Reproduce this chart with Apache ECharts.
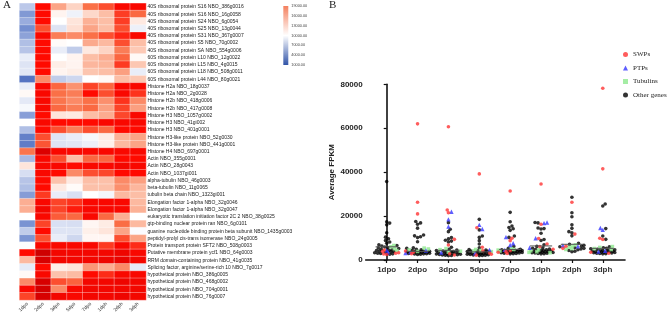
<!DOCTYPE html>
<html>
<head>
<meta charset="utf-8">
<script src="https://cdn.jsdelivr.net/npm/echarts@6/dist/echarts.min.js"></script>
<style>
  html, body { margin: 0; padding: 0; background: #fff; }
  #chart { width: 669px; height: 315px; }
</style>
</head>
<body>
<div id="chart"></div>
<script>
// 发育阶段
var stages = ['1dpo', '2dpo', '3dpo', '5dpo', '7dpo', '1dph', '2dph', '3dph'];

// 热图的基因
var genes = [
  '40S ribosomal protein S16 NBO_386g0016',
  '40S ribosomal protein S16 NBO_16g0058',
  '40S ribosomal protein S24 NBO_6g0054',
  '40S ribosomal protein S25 NBO_13g0044',
  '40S ribosomal protein S31 NBO_367g0007',
  '40S ribosomal protein S5 NBO_70g0002',
  '40S ribosomal protein SA NBO_554g0006',
  '60S ribosomal protein L10 NBO_12g0022',
  '60S ribosomal protein L15 NBO_4g0015',
  '60S ribosomal protein L18 NBO_508g0011',
  '60S ribosomal protein L44 NBO_80g0021',
  'Histone H2a NBO_18g0037',
  'Histone H2a NBO_2g0028',
  'Histone H2b NBO_418g0006',
  'Histone H2b NBO_417g0008',
  'Histone H3 NBO_1057g0002',
  'Histone H3 NBO_41gi002',
  'Histone H3 NBO_401g0001',
  'Histone H3-like protein NBO_52g0030',
  'Histone H3-like protein NBO_441g0001',
  'Histone H4 NBO_697g0001',
  'Actin NBO_355g0001',
  'Actin NBO_28g0043',
  'Actin NBO_1037gi001',
  'alpha-tubulin NBO_46g0003',
  'beta-tubulin NBO_11g0065',
  'tubulin beta chain NBO_1323gi001',
  'Elongation factor 1-alpha NBO_32g0046',
  'Elongation factor 1-alpha NBO_32g0047',
  'eukaryotic translation initiation factor 2C 2 NBO_38g0025',
  'gtp-binding nuclear protein ran NBO_6g0101',
  'guanine nucleotide binding protein beta subunit NBO_1435g0003',
  'peptidyl-prolyl cis-trans isomerase NBO_24g0005',
  'Protein transport protein SFT2 NBO_508g0003',
  'Putative membrane protein ycf1 NBO_64g0003',
  'RRM domain-containing protein NBO_41g0035',
  'Splicing factor, arginine/serine-rich 10 NBO_7g0017',
  'hypothetical protein NBO_386g0005',
  'hypothetical protein NBO_468g0002',
  'hypothetical protein NBO_704g0001',
  'hypothetical protein NBO_76g0007'
];

// 每行 8 个阶段的表达量
var expr = [
  [7000, 19000, 14000, 12000, 16000, 17000, 19500, 19500],
  [4500, 19000, 10500, 9300, 11800, 13000, 17500, 16200],
  [5500, 19000, 10000, 11200, 13500, 13000, 17500, 11000],
  [4000, 17000, 8500, 11500, 14000, 13000, 17000, 9200],
  [5000, 19500, 15500, 15000, 16000, 17000, 18200, 19500],
  [6500, 19000, 10200, 10000, 13800, 13200, 17000, 13000],
  [6800, 19000, 9000, 7200, 11000, 12000, 15500, 12500],
  [9000, 19000, 10000, 10500, 13000, 13700, 16300, 10300],
  [8500, 19000, 10800, 10500, 13300, 13400, 17600, 12600],
  [8700, 19000, 10500, 10800, 12700, 13000, 14200, 9000],
  [2500, 15000, 7200, 7800, 10000, 10300, 13000, 12600],
  [9000, 19500, 16300, 14700, 17300, 16300, 19500, 19500],
  [10300, 19500, 16000, 15500, 19000, 17000, 19500, 17800],
  [8800, 19500, 15800, 15000, 16000, 14800, 17800, 15000],
  [9600, 19500, 16200, 15500, 16200, 14200, 17300, 14200],
  [4800, 19000, 11200, 11000, 13000, 13700, 17200, 19500],
  [10000, 19500, 19000, 19000, 19000, 19500, 19500, 19500],
  [6500, 19000, 17000, 15500, 17000, 16200, 19000, 19000],
  [3200, 17000, 8500, 9000, 9600, 10800, 13500, 14000],
  [3000, 16800, 8500, 8700, 9200, 10700, 13200, 14000],
  [15800, 22000, 19500, 19500, 19500, 19500, 19500, 19500],
  [6200, 19500, 17000, 13000, 16300, 16300, 19000, 19000],
  [11200, 19500, 19500, 19000, 19500, 19500, 20000, 19500],
  [8200, 19500, 19000, 15000, 17000, 17200, 19000, 19000],
  [6800, 19000, 12800, 11000, 13000, 12900, 15000, 14200],
  [6500, 19000, 11000, 10200, 12900, 12900, 14800, 13300],
  [4700, 17600, 9000, 8300, 10000, 9500, 13200, 13000],
  [13600, 19500, 17300, 17800, 19500, 19500, 19500, 13200],
  [13600, 20000, 17300, 18500, 19500, 19500, 19500, 13500],
  [10000, 19500, 16600, 16200, 19500, 16200, 13600, 10000],
  [4200, 17300, 8300, 8200, 10400, 10900, 16100, 13200],
  [7200, 19000, 8500, 8500, 10700, 11200, 14000, 9800],
  [4300, 17000, 9000, 7800, 10400, 10400, 17000, 14000],
  [9900, 19500, 19500, 19500, 19500, 17600, 19500, 18000],
  [19000, 23500, 20000, 20000, 20000, 20000, 20500, 19500],
  [13200, 22500, 20000, 20000, 20000, 20500, 21000, 20000],
  [8900, 19000, 10800, 11200, 14500, 13700, 15000, 8900],
  [10300, 19500, 12800, 13100, 19000, 18000, 19500, 19500],
  [15000, 22500, 17000, 16400, 20000, 20000, 20500, 20000],
  [19500, 23000, 15000, 19500, 20000, 20000, 20000, 20000],
  [17300, 22500, 20000, 19500, 20000, 20000, 20500, 20000]
];

// 色标刻度
var scaleMin = 1000;
var scaleMax = 19000;
var scaleStep = 3000;

// 右图：每个阶段的 FPKM
var swps = [
  [3300, 2700, 3900, 3100, 2500, 4500],
  [62000, 26300, 21000, 3500, 2900, 4100],
  [60700, 22800, 21500, 9400, 6800, 2300, 2800],
  [39200, 14700, 5800, 4200, 3200, 2600, 2200],
  [31400, 9900, 8800, 4200, 3500, 3000, 3800],
  [34600, 16300, 9800, 7300, 6100, 4900],
  [26300, 11800, 5300, 6300],
  [78200, 41500, 9900, 9300, 3500, 3100]
];
var ptps = [
  [4400, 3500],
  [3600, 3200, 4300],
  [22000, 18500, 15200, 3400],
  [16000, 14100, 4600, 3000],
  [10400, 7600, 6800, 4600],
  [17100, 16800, 9900, 5600],
  [6600, 6200],
  [14600, 13700, 4200, 3800]
];
var tubulins = [
  [6000, 6600, 5100, 4300],
  [5000, 5400, 4600, 3900],
  [4700, 5200, 3600, 4000],
  [4300, 4800, 3800, 4100],
  [4800, 4500, 5200, 4100],
  [3800, 4200, 3500, 4600, 3300],
  [6900, 6500, 5800, 5200, 4800],
  [5700, 6100, 5200, 4800]
];
var others = [
  [35700, 17400, 16800, 16000, 12400, 10400, 9700, 8900, 8200, 7600, 6900, 6300, 5900, 5500, 5200, 4900, 4600, 4400, 4100, 3900, 3700, 3500, 3300, 3100, 3000, 2800, 2600, 4300, 5700, 6600],
  [17500, 16900, 16300, 14500, 11400, 11000, 10600, 10200, 8300, 5300, 4900, 4600, 4400, 4200, 4000, 3900, 3800, 3700, 3600, 3500, 3400, 3300, 3200, 3100, 3000, 2900, 2800, 2700, 2600, 2500, 5600],
  [17000, 14000, 12900, 10200, 9600, 9000, 8600, 8200, 5800, 4900, 4500, 4300, 4100, 3900, 3700, 3500, 3300, 3100, 2900, 2700, 2600, 2500, 2400, 2300, 2200, 2100, 2000, 3800, 3400, 2800],
  [18500, 13700, 10900, 10300, 8800, 7300, 5600, 4800, 4500, 4300, 4100, 3900, 3700, 3500, 3300, 3100, 3000, 2900, 2800, 2700, 2600, 2500, 2400, 2300, 2200, 2100, 3600, 3200, 4000, 2000],
  [21700, 17400, 15500, 14800, 14200, 13500, 10900, 10300, 6200, 5300, 4900, 4700, 4500, 4300, 4100, 3900, 3800, 3700, 3600, 3500, 3400, 3300, 3200, 3100, 3000, 4000, 4200, 4400, 2900, 2800],
  [17100, 16900, 14600, 14300, 14100, 12200, 9300, 8900, 6900, 6200, 5600, 5000, 4600, 4300, 4100, 3900, 3700, 3600, 3500, 3400, 3300, 3200, 3100, 3000, 2900, 2800, 4800, 4400, 3800, 5300],
  [28600, 21500, 19700, 16000, 14400, 12900, 12400, 11000, 7600, 7100, 6700, 6300, 6000, 5600, 5300, 5000, 4700, 4300, 4000, 3800],
  [25500, 24600, 14300, 10900, 9400, 6000, 5600, 5300, 5100, 4900, 4700, 4500, 4300, 4100, 3900, 3800, 3700, 3600, 3500, 3400, 3300, 3200, 3100, 3000, 2900, 2800, 4000, 4400]
];
var medians = [6000, 3900, 4400, 3700, 4800, 6400, 7150, 5300];
var fpkmTicks = [0, 20000, 40000, 60000, 80000];

var groupNames = ['SWPs', 'PTPs', 'Tubulins', 'Other genes'];
var groupData = [swps, ptps, tubulins, others];
var groupColor = ['#ff3535', '#3636ff', '#8fe88f', '#000000'];
var groupSymbol = ['circle', 'triangle', 'rect', 'circle'];
var groupSize = [3.6, 4.4, 3.6, 3.6];

// 散点横向错开（蜂群式排列，只算位置）
var pxPerVal = 175.7 / 80000;
var pxPerCat = 30.86;
var dotDia = 3.0;
var points = [[], [], [], []];
stages.forEach(function (s, i) {
  var items = [];
  groupData.forEach(function (g, gi) {
    g[i].forEach(function (v) { items.push({ g: gi, v: v }); });
  });
  items.sort(function (a, b) { return a.v - b.v; });
  var placed = [];
  items.forEach(function (it) {
    var y = it.v * pxPerVal;
    var best = 0, bestGap = -1;
    for (var k = 0; k <= 40; k++) {
      var off = (k % 2 ? 1 : -1) * Math.ceil(k / 2) * 0.6;
      var gap = Infinity;
      placed.forEach(function (p) {
        var d = Math.sqrt((p.x - off) * (p.x - off) + (p.y - y) * (p.y - y));
        if (d < gap) gap = d;
      });
      if (gap >= dotDia) { best = off; bestGap = gap; break; }
      if (gap > bestGap) { bestGap = gap; best = off; }
    }
    placed.push({ x: best, y: y });
    points[it.g].push([i + best / pxPerCat, it.v]);
  });
});

var heatData = [];
expr.forEach(function (row, r) {
  row.forEach(function (v, c) { heatData.push([c, r, v]); });
});

var myChart = echarts.init(document.getElementById('chart'));

var scatterSeries = groupNames.map(function (name, gi) {
  return {
    name: name,
    type: 'scatter',
    xAxisIndex: 2,
    yAxisIndex: 2,
    symbol: groupSymbol[gi],
    symbolSize: groupSize[gi],
    itemStyle: { color: groupColor[gi] },
    z: 10 - gi,
    data: points[gi]
  };
});

var option = {
  animation: false,
  textStyle: { fontFamily: 'Liberation Sans' },
  title: [
    { text: 'A', left: 3, top: 0, padding: 0, textStyle: { fontFamily: 'Liberation Serif', fontWeight: 'normal', fontSize: 11, color: '#222' } },
    { text: 'B', left: 329, top: 0, padding: 0, textStyle: { fontFamily: 'Liberation Serif', fontWeight: 'normal', fontSize: 11, color: '#222' } }
  ],
  legend: {
    orient: 'vertical',
    left: 623,
    top: 51,
    padding: 0,
    itemWidth: 5,
    itemHeight: 5,
    itemGap: 6.5,
    textStyle: { fontFamily: 'Liberation Serif', fontSize: 7, color: '#222' },
    data: [
      { name: 'SWPs', icon: 'circle' },
      { name: 'PTPs', icon: 'triangle' },
      { name: 'Tubulins', icon: 'rect' },
      { name: 'Other genes', icon: 'circle' }
    ]
  },
  visualMap: {
    show: false,
    seriesIndex: 0,
    min: 1000,
    max: 25000,
    inRange: {
      color: ['#3456b2', '#758fd0', '#bcc8e9', '#ffffff', '#fcbea6', '#fa7047', '#ff0a00', '#dc0000', '#c00000']
    }
  },
  grid: [
    { left: 19.5, top: 3.3, width: 126.5, height: 296.7 },
    { left: 283.3, top: 6, width: 5, height: 59 },
    { left: 365.7, top: 84.3, width: 259.3, height: 175.7 }
  ],
  xAxis: [
    {
      gridIndex: 0,
      type: 'category',
      data: stages,
      axisLine: { show: false },
      axisTick: { show: false },
      axisLabel: { rotate: 45, fontSize: 5, color: '#333', margin: 3, interval: 0 }
    },
    {
      gridIndex: 1,
      type: 'category',
      data: ['bar'],
      show: false
    },
    {
      gridIndex: 2,
      type: 'value',
      min: -0.68,
      max: 7.72,
      splitLine: { show: false },
      axisLine: { lineStyle: { color: '#111', width: 1.6 } },
      axisTick: { show: true, customValues: [0, 1, 2, 3, 4, 5, 6, 7], length: 3, lineStyle: { color: '#111', width: 1.2 } },
      axisLabel: {
        customValues: [0, 1, 2, 3, 4, 5, 6, 7],
        formatter: function (v) { return stages[Math.round(v)]; },
        fontSize: 8, fontWeight: 'bold', color: '#333', margin: 6
      }
    }
  ],
  yAxis: [
    {
      gridIndex: 0,
      type: 'category',
      data: genes,
      inverse: true,
      position: 'right',
      axisLine: { show: false },
      axisTick: { show: false },
      axisLabel: { fontSize: 5, color: '#222', margin: 1.5, interval: 0 }
    },
    {
      gridIndex: 1,
      type: 'value',
      min: scaleMin,
      max: scaleMax,
      interval: scaleStep,
      position: 'right',
      splitLine: { show: false },
      axisLine: { show: false },
      axisTick: { show: false },
      axisLabel: {
        fontSize: 3.8, color: '#444', margin: 3,
        formatter: function (v) { return v.toFixed(2); }
      }
    },
    {
      gridIndex: 2,
      type: 'value',
      min: fpkmTicks[0],
      max: fpkmTicks[fpkmTicks.length - 1],
      interval: fpkmTicks[1] - fpkmTicks[0],
      name: 'Average FPKM',
      nameLocation: 'middle',
      nameGap: 30,
      nameTextStyle: { fontSize: 8, fontWeight: 'bold', color: '#222' },
      splitLine: { show: false },
      axisLine: { show: true, lineStyle: { color: '#111', width: 1.6 } },
      axisTick: { show: true, length: 3, lineStyle: { color: '#111', width: 1.2 } },
      axisLabel: {
        fontSize: 8, fontWeight: 'bold', color: '#222', margin: 3,
        formatter: function (v) { return String(v); }
      }
    }
  ],
  series: [
    {
      type: 'heatmap',
      xAxisIndex: 0,
      yAxisIndex: 0,
      data: heatData,
      itemStyle: { borderColor: 'rgba(255,255,255,0.55)', borderWidth: 0.6 }
    },
    {
      type: 'bar',
      xAxisIndex: 1,
      yAxisIndex: 1,
      barWidth: '100%',
      silent: true,
      data: [scaleMax],
      itemStyle: {
        color: new echarts.graphic.LinearGradient(0, 0, 0, 1, [
          { offset: 0, color: '#f4805e' },
          { offset: 0.5, color: '#ffffff' },
          { offset: 1, color: '#3154a8' }
        ])
      }
    }
  ].concat(scatterSeries).concat([
    {
      type: 'custom',
      xAxisIndex: 2,
      yAxisIndex: 2,
      z: 20,
      silent: true,
      data: medians.map(function (m, i) { return [i, m]; }),
      renderItem: function (params, api) {
        var a = api.coord([api.value(0) - 0.36, api.value(1)]);
        var b = api.coord([api.value(0) + 0.36, api.value(1)]);
        return {
          type: 'line',
          shape: { x1: a[0], y1: a[1], x2: b[0], y2: b[1] },
          style: { stroke: '#555', lineWidth: 1 }
        };
      }
    }
  ])
};

myChart.setOption(option);
</script>
</body>
</html>
